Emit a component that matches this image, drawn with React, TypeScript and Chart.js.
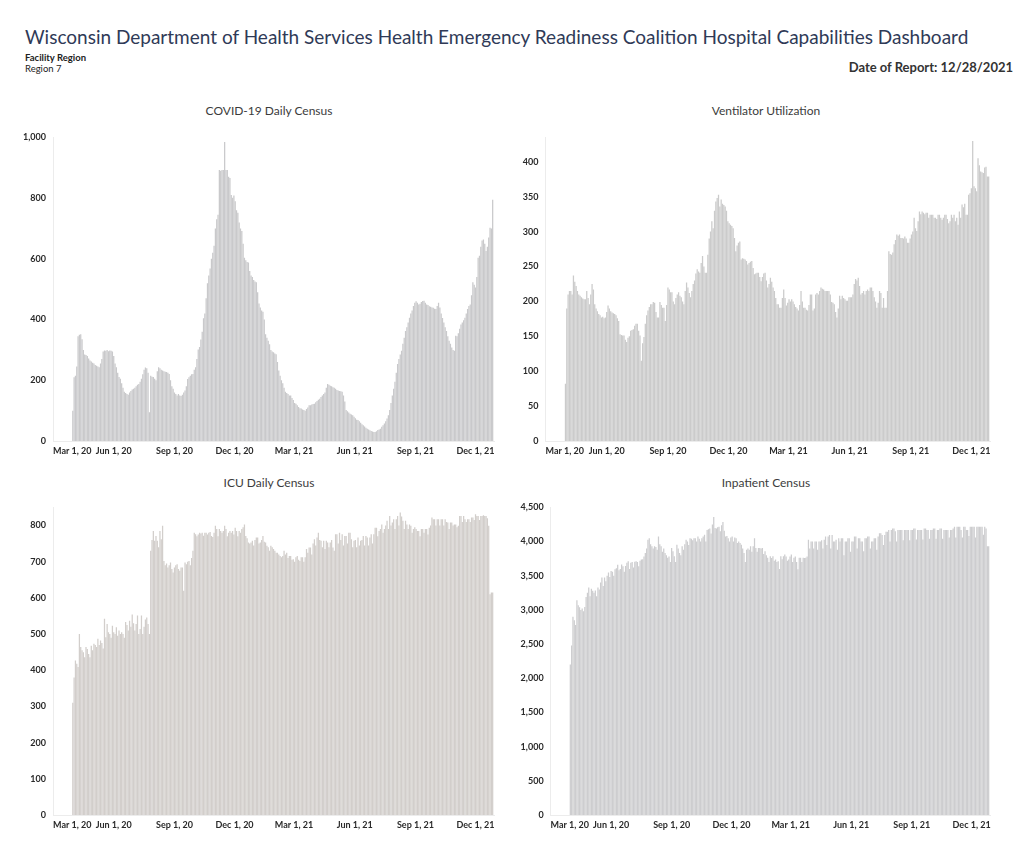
import React, { useEffect, useRef } from 'react';
import { Chart, registerables } from 'chart.js';

Chart.register(...registerables);

// x axis: days since Mar 1, 2020; data every 2 days from Mar 31, 2020
const START_DAY = 30;
const STEP_DAYS = 2;
const X_MAX_DAY = 668;
const xTickDays = [0, 92, 184, 275, 365, 457, 549, 640, 668];
const xTickLabels = ['Mar 1, 20', 'Jun 1, 20', 'Sep 1, 20', 'Dec 1, 20', 'Mar 1, 21', 'Jun 1, 21', 'Sep 1, 21', 'Dec 1, 21', ''];

const covidValues = [
  100, 210, 215, 245, 345, 350, 352, 335, 300, 285,
  283, 280, 272, 265, 262, 258, 255, 250, 248, 245,
  243, 255, 270, 295, 298, 297, 300, 296, 298, 297,
  295, 280, 255, 243, 225, 211, 205, 190, 175, 162,
  158, 155, 152, 160, 165, 170, 172, 175, 180, 185,
  188, 195, 205, 220, 235, 242, 240, 225, 95, 215,
  212, 211, 205, 200, 230, 243, 240, 235, 232, 230,
  228, 227, 225, 221, 200, 180, 172, 160, 155, 150,
  155, 150, 148, 152, 160, 166, 180, 204, 210, 215,
  220, 221, 235, 243, 270, 301, 310, 334, 360, 404,
  420, 470, 520, 545, 568, 600, 620, 643, 700, 730,
  745, 893, 890, 893, 893, 985, 893, 893, 870, 866,
  810, 801, 809, 790, 760, 752, 720, 700, 692, 650,
  604, 595, 590, 588, 560, 545, 540, 530, 525, 523,
  490, 453, 440, 430, 426, 400, 352, 340, 330, 319,
  300, 295, 292, 288, 286, 260, 232, 215, 200, 190,
  175, 162, 158, 155, 150, 150, 142, 135, 125, 123,
  118, 112, 108, 107, 104, 102, 100, 105, 110, 118,
  118, 120, 122, 123, 128, 132, 136, 139, 145, 150,
  155, 160, 175, 188, 185, 182, 180, 177, 175, 172,
  168, 166, 165, 164, 162, 150, 130, 102, 98, 94,
  90, 87, 85, 80, 75, 70, 69, 65, 60, 55,
  52, 48, 44, 40, 38, 35, 33, 31, 30, 30,
  32, 36, 38, 40, 47, 52, 58, 65, 74, 85,
  102, 125, 150, 172, 195, 225, 254, 270, 285, 297,
  320, 340, 362, 375, 390, 406, 420, 430, 445, 455,
  460, 455, 450, 452, 458, 461, 462, 455, 450, 448,
  444, 442, 440, 439, 436, 435, 445, 455, 440, 420,
  405, 390, 375, 362, 345, 330, 320, 308, 300, 297,
  347, 345, 355, 370, 384, 390, 398, 406, 420, 435,
  445, 450, 480, 523, 515, 506, 540, 604, 610, 640,
  660, 664, 650, 626, 640, 670, 702, 700, 795,
];

const ventValues = [
  82, 190, 210, 215, 215, 210, 237, 228, 222, 215,
  210, 208, 206, 204, 203, 203, 215, 205, 196, 210,
  225, 217, 196, 190, 186, 182, 180, 177, 178, 176,
  177, 185, 194, 190, 186, 184, 183, 182, 180, 176,
  172, 153, 152, 151, 151, 145, 142, 148, 150, 158,
  159, 160, 165, 168, 168, 158, 151, 115, 140, 149,
  168, 180, 187, 192, 196, 196, 199, 198, 185, 177,
  177, 199, 195, 191, 191, 172, 195, 220, 217, 213,
  213, 200, 196, 205, 210, 213, 208, 206, 200, 196,
  215, 227, 220, 212, 206, 215, 225, 230, 240, 246,
  243, 241, 255, 265, 250, 241, 241, 267, 290, 300,
  315, 305, 330, 343, 348, 353, 336, 346, 340, 338,
  336, 330, 315, 312, 310, 308, 305, 291, 272, 280,
  284, 286, 260, 262, 261, 260, 258, 253, 255, 257,
  258, 248, 239, 240, 241, 241, 235, 229, 235, 240,
  241, 230, 220, 225, 234, 228, 220, 215, 205, 196,
  196, 191, 191, 205, 217, 205, 194, 198, 203, 200,
  203, 200, 196, 192, 190, 187, 195, 215, 200, 191,
  191, 188, 187, 195, 210, 210, 187, 190, 210, 212,
  210, 215, 220, 218, 217, 215, 215, 215, 215, 210,
  199, 198, 196, 185, 177, 190, 208, 203, 208, 205,
  203, 201, 201, 206, 206, 206, 210, 225, 232, 230,
  234, 222, 210, 212, 215, 210, 215, 217, 215, 220,
  220, 215, 206, 200, 191, 198, 215, 212, 191, 205,
  191, 191, 215, 272, 268, 267, 270, 282, 288, 296,
  294, 296, 291, 291, 290, 293, 290, 284, 284, 290,
  296, 300, 320, 305, 301, 315, 329, 325, 329, 327,
  325, 327, 327, 320, 324, 324, 324, 320, 320, 318,
  324, 324, 320, 317, 320, 324, 324, 318, 312, 315,
  324, 320, 324, 315, 320, 310, 329, 320, 339, 335,
  340, 324, 324, 353, 355, 362, 430, 365, 362, 358,
  405, 395, 386, 385, 384, 392, 393, 379, 379,
];

const icuValues = [
  310, 380, 427, 418, 409, 500, 464, 455, 450, 436,
  464, 459, 445, 436, 468, 455, 473, 470, 464, 487,
  470, 482, 475, 460, 542, 491, 528, 505, 500, 490,
  523, 505, 500, 519, 495, 510, 500, 505, 500, 490,
  533, 525, 510, 537, 520, 554, 530, 510, 528, 551,
  500, 514, 551, 500, 520, 540, 546, 528, 500, 730,
  760, 785, 758, 771, 758, 740, 785, 762, 799, 702,
  690, 695, 684, 690, 698, 680, 670, 684, 690, 693,
  680, 675, 684, 684, 620, 698, 693, 700, 702, 690,
  710, 730, 780, 776, 770, 775, 780, 778, 780, 772,
  780, 780, 775, 780, 782, 771, 768, 780, 799, 790,
  770, 790, 785, 780, 785, 799, 790, 770, 780, 785,
  780, 785, 775, 794, 785, 770, 785, 780, 790, 795,
  803, 771, 765, 753, 750, 753, 758, 745, 760, 767,
  767, 750, 753, 760, 771, 755, 753, 744, 740, 730,
  744, 740, 735, 730, 725, 725, 720, 716, 712, 716,
  730, 720, 725, 710, 716, 716, 705, 707, 700, 712,
  716, 705, 702, 712, 712, 700, 712, 735, 725, 739,
  739, 720, 750, 762, 745, 767, 780, 760, 758, 740,
  758, 735, 758, 753, 740, 753, 760, 739, 730, 776,
  776, 750, 780, 760, 776, 745, 771, 771, 750, 780,
  780, 762, 740, 758, 760, 740, 767, 745, 758, 760,
  771, 745, 771, 767, 745, 767, 776, 750, 776, 794,
  794, 770, 785, 790, 803, 780, 790, 800, 813, 790,
  826, 800, 808, 817, 790, 817, 826, 800, 836, 825,
  813, 790, 813, 803, 790, 803, 799, 780, 790, 795,
  790, 785, 785, 770, 790, 790, 780, 790, 790, 775,
  794, 800, 822, 817, 817, 800, 817, 817, 800, 817,
  817, 800, 817, 810, 808, 790, 808, 808, 800, 803,
  803, 795, 799, 826, 826, 810, 826, 817, 810, 817,
  817, 810, 822, 822, 815, 831, 826, 826, 815, 826,
  826, 828, 826, 826, 820, 799, 610, 615, 615,
];

const inpatientValues = [
  2200, 2480, 2900, 2850, 2780, 3140, 3070, 3040, 3000, 3020,
  2980, 3044, 3190, 3250, 3330, 3200, 3310, 3280, 3250, 3285,
  3200, 3330, 3300, 3400, 3475, 3350, 3475, 3420, 3500, 3547,
  3480, 3571, 3560, 3500, 3595, 3610, 3660, 3580, 3600, 3666,
  3640, 3560, 3642, 3690, 3714, 3600, 3690, 3700, 3620, 3705,
  3714, 3700, 3640, 3720, 3738, 3740, 3780, 3834, 3900, 4025,
  4049, 3960, 3930, 3900, 3930, 3920, 3880, 4073, 3960, 3930,
  3850, 3900, 3834, 3800, 3762, 3780, 3700, 3906, 3860, 3786,
  3700, 3954, 3900, 3834, 3800, 3930, 3880, 3960, 4025, 4000,
  3950, 4049, 4040, 4020, 4049, 4050, 4000, 4073, 4040, 4001,
  4050, 4073, 4100, 4000, 4169, 4180, 4193, 4120, 4250, 4360,
  4200, 4193, 4210, 4216, 4150, 4240, 4288, 4160, 4073, 4080,
  4049, 4000, 4060, 4073, 4000, 4060, 4049, 3980, 4001, 3980,
  3954, 3900, 3834, 3700, 3882, 3900, 3882, 3930, 3850, 3930,
  4049, 3906, 3850, 3906, 3906, 3900, 3906, 3820, 3858, 3800,
  3762, 3700, 3786, 3760, 3786, 3720, 3738, 3700, 3714, 3600,
  3786, 3740, 3786, 3810, 3780, 3720, 3738, 3780, 3810, 3700,
  3762, 3780, 3700, 3595, 3762, 3762, 3700, 3762, 3760, 3762,
  3780, 4025, 3900, 4001, 4001, 3900, 4001, 4001, 3880, 4001,
  4001, 4020, 3900, 4025, 4073, 3950, 4073, 4097, 3900, 4097,
  4001, 4001, 4025, 3880, 4049, 4001, 4049, 4049, 3800, 4001,
  4001, 4049, 4049, 3850, 4001, 4001, 4073, 4073, 3900, 4049,
  4049, 4001, 4001, 3860, 4049, 4049, 4073, 4073, 3900, 4001,
  4001, 4049, 4049, 3880, 4073, 4121, 4121, 4097, 3950, 4097,
  4145, 4145, 4169, 4000, 4169, 4193, 4193, 4150, 4000, 4169,
  4169, 4169, 4169, 4020, 4169, 4169, 4169, 4169, 4020, 4169,
  4169, 4193, 4193, 4030, 4169, 4169, 4169, 4169, 4030, 4193,
  4193, 4169, 4169, 4040, 4169, 4169, 4193, 4193, 4040, 4169,
  4169, 4193, 4193, 4040, 4169, 4169, 4169, 4169, 4060, 4169,
  4169, 4193, 4216, 4060, 4216, 4216, 4216, 4169, 4060, 4216,
  4216, 4169, 4169, 4080, 4216, 4216, 4216, 4216, 4060, 4216,
  4216, 4216, 4216, 4216, 4100, 4216, 4193, 3930, 3930,
];

const covidTicks = [0, 200, 400, 600, 800, 1000];
const ventTicks = [0, 50, 100, 150, 200, 250, 300, 350, 400];
const icuTicks = [0, 100, 200, 300, 400, 500, 600, 700, 800];
const inpatientTicks = [0, 500, 1000, 1500, 2000, 2500, 3000, 3500, 4000, 4500];

const FONT = 'Lato, "Open Sans", sans-serif';

type PanelCfg = {
  title: string;
  values: number[];
  yTicks: number[];
  yMax: number;
  color: string;
  left: number;
  top: number;
  width: number;
  height: number;
  axisWidth: number;
  padTop: number;
  padRight: number;
  titleX: number;
  titleY: number;
};

const panels: PanelCfg[] = [
  { title: 'COVID-19 Daily Census', values: covidValues, yTicks: covidTicks, yMax: 1000, color: '#c9c9cb',
    left: 0, top: 125, width: 512, height: 340, axisWidth: 53, padTop: 10.7, padRight: 18, titleX: 269, titleY: 111 },
  { title: 'Ventilator Utilization', values: ventValues, yTicks: ventTicks, yMax: 435, color: '#cbcbcb',
    left: 512, top: 125, width: 512, height: 340, axisWidth: 33.5, padTop: 10.7, padRight: 34, titleX: 766, titleY: 111 },
  { title: 'ICU Daily Census', values: icuValues, yTicks: icuTicks, yMax: 850, color: '#d2cecb',
    left: 0, top: 495, width: 512, height: 344, axisWidth: 53, padTop: 11.4, padRight: 18, titleX: 269, titleY: 483 },
  { title: 'Inpatient Census', values: inpatientValues, yTicks: inpatientTicks, yMax: 4500, color: '#cdcdcf',
    left: 512, top: 495, width: 512, height: 344, axisWidth: 38.6, padTop: 7, padRight: 34, titleX: 766, titleY: 483 },
];

function Panel({ cfg }: { cfg: PanelCfg }) {
  const ref = useRef<HTMLCanvasElement>(null);
  useEffect(() => {
    const tickFont = { family: FONT, size: 9, weight: 'bold' as const };
    const chart = new Chart(ref.current as HTMLCanvasElement, {
      type: 'bar',
      data: {
        datasets: [
          {
            data: cfg.values.map((v, i) => ({ x: START_DAY + i * STEP_DAYS, y: v })),
            backgroundColor: cfg.color,
            borderWidth: 0,
            barPercentage: 0.95,
            categoryPercentage: 1,
          } as any,
        ],
      },
      options: {
        responsive: false,
        animation: false,
        layout: { padding: { top: cfg.padTop, right: cfg.padRight, left: 0, bottom: 0 } },
        plugins: { legend: { display: false }, tooltip: { enabled: false }, title: { display: false } },
        scales: {
          x: {
            type: 'linear',
            min: 0,
            max: X_MAX_DAY,
            offset: false,
            grid: { display: false, drawTicks: false },
            border: { display: true, color: '#ececec' },
            afterBuildTicks: (s: any) => {
              s.ticks = xTickDays.map((v) => ({ value: v }));
            },
            afterFit: (s: any) => {
              s.height = 24;
            },
            ticks: {
              autoSkip: false,
              maxRotation: 0,
              minRotation: 0,
              align: 'inner',
              padding: 5,
              color: '#2a2a2a',
              font: tickFont,
              callback: (_v: any, i: number) => xTickLabels[i],
            },
          } as any,
          y: {
            min: 0,
            max: cfg.yMax,
            grid: { display: false, drawTicks: false },
            border: { display: true, color: '#ececec' },
            afterBuildTicks: (s: any) => {
              s.ticks = cfg.yTicks.map((v) => ({ value: v }));
            },
            afterFit: (s: any) => {
              s.width = cfg.axisWidth;
            },
            ticks: {
              padding: 7,
              color: '#2a2a2a',
              font: tickFont,
              callback: (v: any) => Number(v).toLocaleString('en-US'),
            },
          } as any,
        },
      },
    });
    return () => chart.destroy();
  }, [cfg]);
  return (
    <>
      <div
        style={{
          position: 'absolute',
          left: cfg.titleX - 150,
          width: 300,
          top: cfg.titleY - 8,
          height: 16,
          lineHeight: '16px',
          textAlign: 'center',
          fontFamily: FONT,
          fontSize: 12,
          color: '#3c3c3c',
        }}
      >
        {cfg.title}
      </div>
      <canvas
        ref={ref}
        width={cfg.width}
        height={cfg.height}
        style={{ position: 'absolute', left: cfg.left, top: cfg.top, width: cfg.width, height: cfg.height }}
      />
    </>
  );
}

export default function App() {
  useEffect(() => {
    document.body.style.margin = '0';
    document.body.style.background = '#ffffff';
  }, []);
  return (
    <div style={{ position: 'relative', width: 1024, height: 844, overflow: 'hidden', background: '#fff' }}>
      <div
        style={{
          position: 'absolute',
          left: 25,
          top: 25,
          fontFamily: FONT,
          fontSize: 19,
          lineHeight: '23px',
          color: '#2f3a57',
          whiteSpace: 'nowrap',
        }}
      >
        Wisconsin Department of Health Services Health Emergency Readiness Coalition Hospital Capabilities Dashboard
      </div>
      <div
        style={{
          position: 'absolute',
          left: 25,
          top: 52,
          fontFamily: FONT,
          fontSize: 9.5,
          lineHeight: '11px',
          fontWeight: 'bold',
          color: '#222',
        }}
      >
        Facility Region
      </div>
      <div
        style={{
          position: 'absolute',
          left: 25,
          top: 63,
          fontFamily: FONT,
          fontSize: 9.5,
          lineHeight: '11px',
          color: '#222',
        }}
      >
        Region 7
      </div>
      <div
        style={{
          position: 'absolute',
          right: 11,
          top: 59,
          fontFamily: FONT,
          fontSize: 13,
          lineHeight: '16px',
          fontWeight: 'bold',
          color: '#333',
          whiteSpace: 'nowrap',
        }}
      >
        Date of Report: 12/28/2021
      </div>
      {panels.map((p) => (
        <Panel key={p.title} cfg={p} />
      ))}
    </div>
  );
}
